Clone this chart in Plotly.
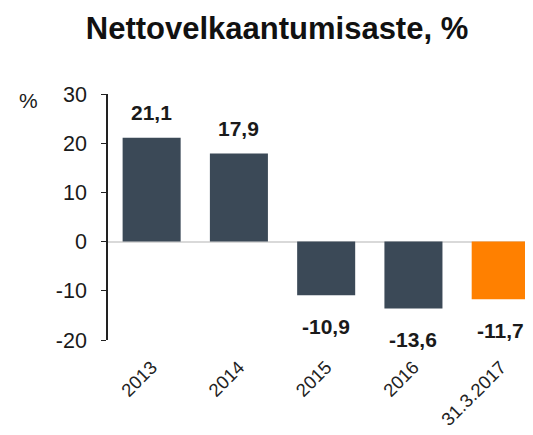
import plotly.graph_objects as go

categories = ["2013", "2014", "2015", "2016", "31.3.2017"]
values = [21.1, 17.9, -10.9, -13.6, -11.7]
labels = ["21,1", "17,9", "-10,9", "-13,6", "-11,7"]
colors = ["#3b4957", "#3b4957", "#3b4957", "#3b4957", "#ff8000"]
y_ticks = [30, 20, 10, 0, -10, -20]
y_tick_text = ["30", "20", "10", "0", "-10", "-20"]

FONT = "Liberation Sans, Arial, sans-serif"

fig = go.Figure()
fig.add_trace(go.Bar(x=list(range(len(categories))), y=values,
                     marker=dict(color=colors, line=dict(width=0)),
                     hoverinfo="skip"))

for i, (v, t) in enumerate(zip(values, labels)):
    fig.add_annotation(x=i, y=v, text=f"<b>{t}</b>", showarrow=False,
                       yshift=25 if v > 0 else -31,
                       font=dict(family=FONT, size=21, color="#1a1a1a"))

fig.add_annotation(xref="paper", yref="paper", x=-0.186, y=0.972, xanchor="center",
                   yanchor="middle", text="%",
                   showarrow=False, font=dict(family=FONT, size=21, color="#1a1a1a"))

fig.update_layout(
    width=533, height=435,
    margin=dict(l=100, r=8, t=86, b=103),
    paper_bgcolor="white", plot_bgcolor="white",
    showlegend=False,
    bargap=0.335,
    title=dict(text="<b>Nettovelkaantumisaste, %</b>", x=269 / 533, xanchor="center",
               y=1 - 20 / 435, yanchor="middle",
               font=dict(family=FONT, size=31, color="#111111")),
)
fig.update_xaxes(tickmode="array", tickvals=list(range(len(categories))), ticktext=categories,
                 range=[-0.5, 4.37], showline=False, ticks="", automargin=False,
                 tickangle=-45, ticklabelstandoff=12,
                 tickfont=dict(family=FONT, size=18.5, color="#222222"), showgrid=False,
                 zeroline=False)
fig.update_yaxes(range=[-20, 30], tickvals=y_ticks, ticktext=y_tick_text, automargin=False,
                 showline=True, linecolor="#222222",
                 linewidth=1.5, ticks="outside", ticklen=5, tickcolor="#222222",
                 ticklabelstandoff=10,
                 tickfont=dict(family=FONT, size=21.5, color="#1a1a1a"),
                 showgrid=False, zeroline=True, zerolinecolor="#d9d9d9", zerolinewidth=1.5)

fig.write_html("out.html")
